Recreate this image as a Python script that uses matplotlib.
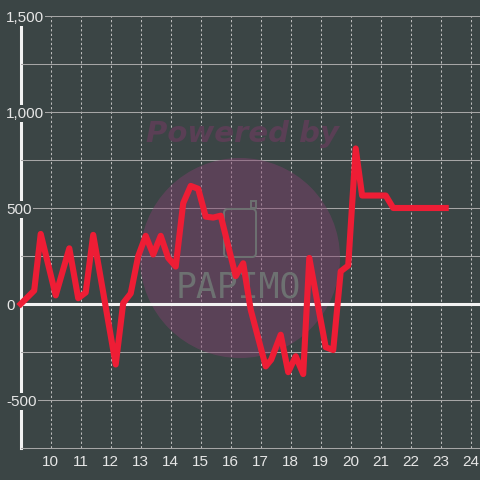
import matplotlib
matplotlib.use("Agg")
import matplotlib.pyplot as plt
from matplotlib.patches import Circle, FancyBboxPatch, Rectangle

# ---- data ----
hours = [9.0, 9.45, 9.667, 10.167, 10.62, 10.917, 11.167, 11.417, 12.167, 12.417,
         12.667, 12.917, 13.167, 13.417, 13.667, 13.917, 14.167, 14.417, 14.667, 14.917,
         15.167, 15.417, 15.667, 16.167, 16.417, 16.667, 17.167, 17.35, 17.667, 17.917,
         18.167, 18.417, 18.62, 18.917, 19.167, 19.417, 19.667, 19.917, 20.167, 20.38,
         21.167, 21.417, 23.167]
values = [0, 70, 365, 45, 290, 30, 60, 360, -315, 5,
          55, 250, 355, 258, 355, 240, 195, 525, 615, 600,
          455, 450, 460, 145, 212, -30, -325, -290, -160, -355,
          -272, -365, 240, -15, -225, -240, 170, 200, 810, 565,
          565, 500, 500]
xtick_vals = list(range(10, 25))
xtick_labels = [str(v) for v in xtick_vals]
ytick_vals = [-500, 0, 500, 1000, 1500]
ytick_labels = ["-500", "0", "500", "1,000", "1,500"]
yminor_vals = [-250, 250, 750, 1250]

bg = "#3b4545"
txt = "#e6e6e6"
red = "#ee1d35"

plt.rcParams['font.family'] = ['Liberation Sans', 'DejaVu Sans']

fig = plt.figure(figsize=(4.8, 4.8), dpi=100, facecolor=bg)
W = 480.0
ax = fig.add_axes([20.7 / W, 32 / W, 459.3 / W, 432 / W])
ax.set_facecolor(bg)
ax.set_xlim(9.0, 24.31)
ax.set_ylim(-750, 1500)

ax.set_xticks(xtick_vals)
ax.set_xticklabels(xtick_labels)
ax.set_yticks(ytick_vals)
ax.set_yticklabels(ytick_labels)
ax.set_yticks(yminor_vals, minor=True)

ax.set_axisbelow(True)
ax.grid(axis='y', which='both', color='#a6a6a6', lw=0.75)
ax.grid(axis='x', which='major', color='#bcbcbc', lw=0.75, linestyle=(0, (2.2, 2.2)))
ax.tick_params(which='both', length=0)
ax.tick_params(axis='x', labelcolor=txt, labelsize=11, pad=5)
ax.tick_params(axis='y', labelcolor=txt, labelsize=11, pad=10.6)
for lbl in ax.get_yticklabels():
    lbl.set_horizontalalignment('left')
    lbl.set_bbox(dict(boxstyle='square,pad=0.08', fc=bg, ec='none'))

for s in ['top', 'right']:
    ax.spines[s].set_visible(False)
ax.spines['left'].set_color('#f2f2f2')
ax.spines['left'].set_linewidth(2.2)
ax.spines['left'].set_zorder(0.45)
ax.spines['bottom'].set_color('#a6a6a6')
ax.spines['bottom'].set_linewidth(0.75)

# ---- watermark (figure pixel coordinates) ----
px = fig.dpi_scale_trans
def P(x, y):
    return (x / 100.0, (480 - y) / 100.0)

ax.add_patch(Circle(P(240, 258), 1.0, transform=px, facecolor='#82406e',
                    alpha=0.45, edgecolor='none', zorder=1, clip_on=False))
ax.text(*P(242, 134), "Powered by", transform=px, ha='center', va='center',
        fontsize=21, fontweight='heavy', fontstyle='italic', color='#5a3f55',
        family='DejaVu Sans', zorder=1.1)
ax.add_patch(FancyBboxPatch(P(224, 257), 0.32, 0.48, boxstyle='round,pad=0,rounding_size=0.04',
                            transform=px, facecolor='none', edgecolor='#6d7171',
                            lw=1.4, zorder=1.1, clip_on=False))
ax.add_patch(Rectangle(P(251, 208), 0.05, 0.07, transform=px, facecolor='none',
                       edgecolor='#6d7171', lw=1.4, zorder=1.1, clip_on=False))
ax.text(*P(238, 288), "PAPIMO", transform=px, ha='center', va='center',
        fontsize=25, color='#6d7171', family='DejaVu Sans Mono', zorder=1.1)

# ---- zero line and series ----
ax.axhline(0, color='#f2f2f2', lw=2.2, zorder=1.5)
ax.plot(hours, values, color=red, lw=4.4, zorder=3, clip_on=False)

fig.savefig("out.png", dpi=100, facecolor=bg)
